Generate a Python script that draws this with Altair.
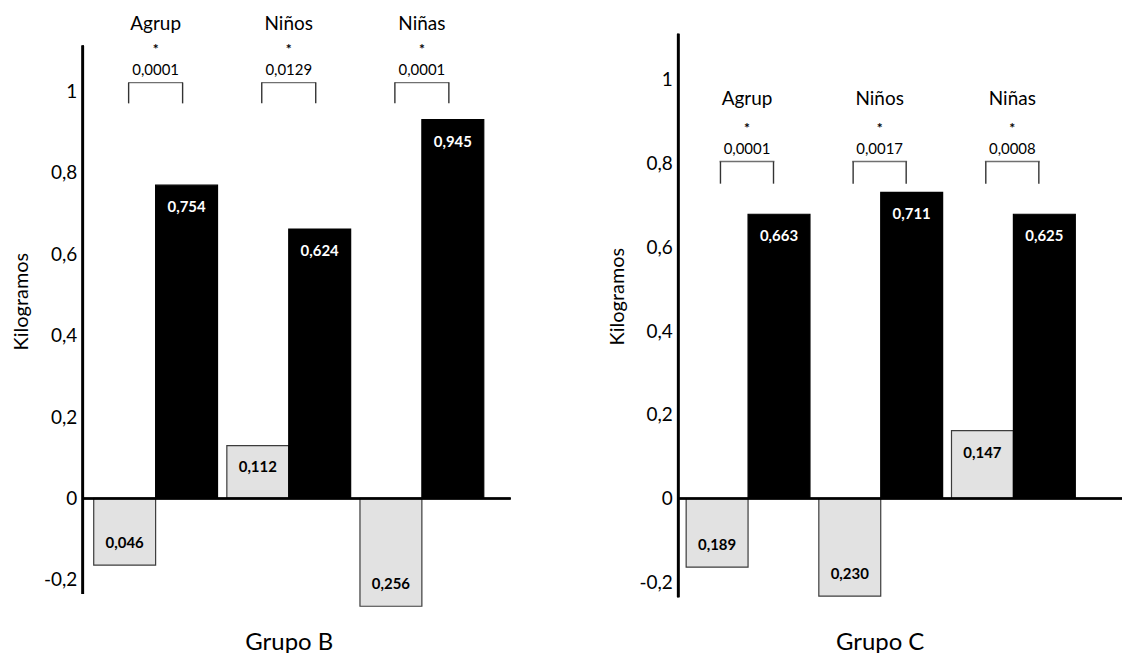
import altair as alt
import pandas as pd

groups = ["Agrup", "Niños", "Niñas"]
series = ["gris", "negro"]
y_ticks = [-0.2, 0, 0.2, 0.4, 0.6, 0.8, 1]

# Grupo B
b_gray = [-0.164, 0.130, -0.265]
b_black = [0.770, 0.662, 0.931]
b_gray_lbl = ["0,046", "0,112", "0,256"]
b_black_lbl = ["0,754", "0,624", "0,945"]
b_p = ["0,0001", "0,0129", "0,0001"]

# Grupo C
c_gray = [-0.164, -0.233, 0.162]
c_black = [0.679, 0.731, 0.679]
c_gray_lbl = ["0,189", "0,230", "0,147"]
c_black_lbl = ["0,663", "0,711", "0,625"]
c_p = ["0,0001", "0,0017", "0,0008"]

FONT = "Lato"
H = 565


def panel(title, gray, black, glbl, blbl, pvals, domain, axis_ext, br_top, br_bot,
          width, pi, po, zero_ext, title_y, cat_dy):
    bars = pd.DataFrame({
        "grupo": groups * 2,
        "serie": ["gris"] * 3 + ["negro"] * 3,
        "valor": gray + black,
        "etiqueta": glbl + blbl,
    })
    ann = pd.DataFrame({"grupo": groups, "p": pvals, "ast": ["*"] * 3})

    xscale = alt.Scale(paddingInner=pi, paddingOuter=po)
    xaxis = alt.Axis(title=title, labels=False, ticks=False, domain=False,
                     titlePadding=33, titleFontSize=24, titleFontWeight="normal",
                     titleColor="black", titleFont=FONT)
    yscale = alt.Scale(domain=domain, nice=False, zero=False)
    yaxis = alt.Axis(title="Kilogramos", values=y_ticks,
                     labelExpr="replace(toString(datum.value), '.', ',')",
                     grid=False, ticks=False, domain=False, labelFontSize=19,
                     labelFont=FONT, labelColor="black", labelPadding=6,
                     titleFont=FONT, titleFontSize=20, titleFontWeight="normal",
                     titleColor="black", titleX=-61, titleY=title_y,
                     titleAngle=-90, titleAlign="center", titleBaseline="middle")

    def X(**kw):
        return alt.X("grupo:N", sort=groups, scale=xscale, axis=xaxis, **kw)

    def Yd(v):
        return alt.Y(datum=v, scale=yscale, axis=yaxis)

    xo = alt.XOffset("serie:N", sort=series, scale=alt.Scale(paddingInner=0, paddingOuter=0))

    base = alt.Chart(bars)
    bar = base.mark_bar(strokeWidth=1.2).encode(
        x=X(), xOffset=xo,
        y=alt.Y("valor:Q", scale=yscale, axis=yaxis),
        y2=alt.datum(0),
        color=alt.condition("datum.serie == 'negro'", alt.value("#000000"), alt.value("#e2e2e2")),
        stroke=alt.condition("datum.serie == 'negro'", alt.value("#000000"), alt.value("#3c3c3c")),
    )
    txt_common = dict(fontSize=15, fontWeight="bold", font=FONT)
    lbl_pos = base.transform_filter("datum.valor >= 0").mark_text(dy=22, **txt_common).encode(
        x=X(), xOffset=xo, y=alt.Y("valor:Q", scale=yscale, axis=yaxis),
        text="etiqueta:N",
        color=alt.condition("datum.serie == 'negro'", alt.value("white"), alt.value("black")),
    )
    lbl_neg = base.transform_filter("datum.valor < 0").mark_text(dy=-22, **txt_common).encode(
        x=X(), xOffset=xo, y=alt.Y("valor:Q", scale=yscale, axis=yaxis),
        text="etiqueta:N",
        color=alt.condition("datum.serie == 'negro'", alt.value("white"), alt.value("black")),
    )

    a = alt.Chart(ann)
    leg_l = a.mark_rule(strokeWidth=1.4, color="#333333").encode(
        x=X(bandPosition=0.282), y=Yd(br_bot), y2=alt.datum(br_top))
    leg_r = a.mark_rule(strokeWidth=1.4, color="#333333").encode(
        x=X(bandPosition=0.718), y=Yd(br_bot), y2=alt.datum(br_top))
    top = a.mark_tick(orient="horizontal", size=55, thickness=1.4, color="#333333").encode(
        x=X(), y=Yd(br_top))
    ptxt = a.mark_text(dy=-13, fontSize=15, font=FONT, color="black").encode(
        x=X(), y=Yd(br_top), text="p:N")
    ast = a.mark_text(dy=-33, fontSize=14, font=FONT, fontWeight="bold", color="black").encode(
        x=X(), y=Yd(br_top), text="ast:N")
    cat = a.mark_text(dy=cat_dy, fontSize=19, font=FONT, color="black").encode(
        x=X(), y=Yd(br_top), text="grupo:N")

    yline = a.mark_rule(strokeWidth=2.5, color="black").encode(
        x=alt.value(0), y=Yd(axis_ext[1]), y2=alt.datum(axis_ext[0]))
    zline = a.mark_rule(strokeWidth=2, color="black").encode(
        x=alt.value(0), x2=alt.value(width + zero_ext), y=Yd(0))

    return alt.layer(bar, zline, yline, lbl_pos, lbl_neg, leg_l, leg_r, top, ptxt, ast, cat).properties(
        width=width, height=H)


left = panel("Grupo B", b_gray, b_black, b_gray_lbl, b_black_lbl, b_p,
             [-0.243, 1.142], [-0.235, 1.113], 1.022, 0.971,
             413, 0.07, 0.082, 16, 268, -59)
right = panel("Grupo C", c_gray, c_black, c_gray_lbl, c_black_lbl, c_p,
              [-0.236, 1.110], [-0.236, 1.110], 0.805, 0.752,
              404, 0.083, 0.06, 41, 263, -63)

chart = alt.hconcat(left, right, spacing=184, bounds="flush").properties(
    padding={"left": 4, "top": 5, "right": 0, "bottom": 0}
).configure(font=FONT).configure_view(strokeWidth=0)

chart.save("out.html", embed_options={"renderer": "svg", "actions": False})
